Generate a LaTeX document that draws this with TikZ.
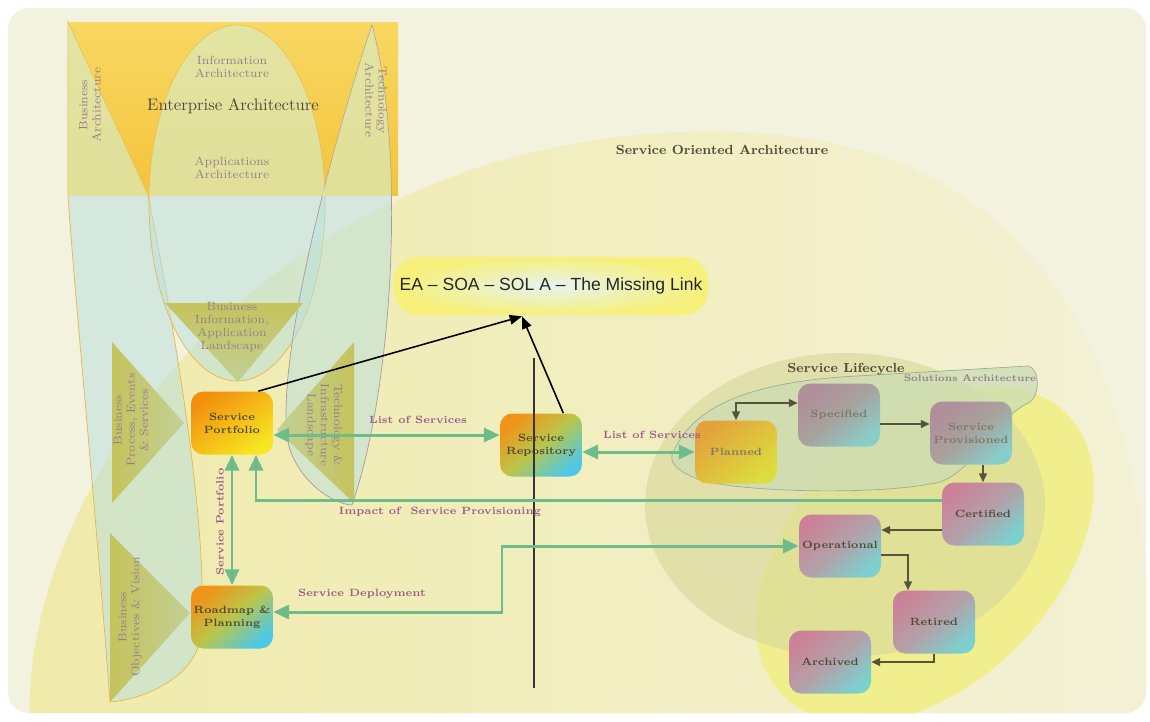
\documentclass[tikz,border=0pt]{standalone}
\usepackage{fontspec}
\newfontfamily\titlefont{Liberation Sans}
\usepackage{xcolor}
\usetikzlibrary{positioning, calc, arrows.meta}

\definecolor{paper}{HTML}{F3F2DF}
\definecolor{soapale}{HTML}{F3F1D6}
\definecolor{soawarm}{HTML}{F0EBAA}
\definecolor{eagold}{HTML}{F4C43C}
\definecolor{eabright}{HTML}{F8D862}
\definecolor{eaedge}{HTML}{E9B64A}
\definecolor{lensedge}{HTML}{A89AA0}
\definecolor{mist}{HTML}{BCE0DC}
\definecolor{sunwash}{HTML}{F4F2A0}
\definecolor{olivetri}{HTML}{C6C35C}
\definecolor{lifegreen}{HTML}{D8D99C}
\definecolor{lifeyellow}{HTML}{F1EE8E}
\definecolor{solfill}{HTML}{CCDDB4}
\definecolor{soledge}{HTML}{9CAE92}
\definecolor{flowgreen}{HTML}{6EBB8C}
\definecolor{stepink}{HTML}{56553A}
\definecolor{plum}{HTML}{9E5C88}
\definecolor{greyplum}{HTML}{957E8E}
\definecolor{ink}{HTML}{4F4A36}
\definecolor{fadedink}{HTML}{7E7768}
\definecolor{glow}{HTML}{F7F07A}
\definecolor{titlecore}{HTML}{E6F3F0}
\definecolor{portorange}{HTML}{F2900E}
\definecolor{portyellow}{HTML}{F7E620}
\definecolor{mixorange}{HTML}{F09418}
\definecolor{mixolive}{HTML}{BAC64A}
\definecolor{mixcyan}{HTML}{4FC8E4}
\definecolor{planorange}{HTML}{E3A23C}
\definecolor{planyellow}{HTML}{DCDD3E}
\definecolor{greytop}{HTML}{B08E9A}
\definecolor{greymid}{HTML}{A8A29E}
\definecolor{greyend}{HTML}{88CEC8}
\definecolor{rosetop}{HTML}{CB8298}
\definecolor{rosemid}{HTML}{B4A0A8}
\definecolor{roseend}{HTML}{7CD0CE}

\begin{document}
\begin{tikzpicture}[x=0.02cm, y=-0.02cm,
    box/.style={rounded corners=7pt, minimum width=1.64cm, minimum height=1.26cm,
      inner sep=1pt, align=center, text=ink, font=\fontsize{6}{7.5}\selectfont\bfseries},
    portbox/.style={box, top color=portorange, bottom color=portyellow, shading angle=35},
    mixbox/.style={box, top color=mixorange, bottom color=mixcyan, middle color=mixolive, shading angle=40},
    planbox/.style={box, top color=planorange, bottom color=planyellow, shading angle=40, text=fadedink},
    greybox/.style={box, top color=greytop, bottom color=greyend, middle color=greymid, shading angle=40, text=fadedink},
    rosebox/.style={box, top color=rosetop, bottom color=roseend, middle color=rosemid, shading angle=40},
    titlebox/.style={rounded corners=14pt, minimum width=6.24cm, minimum height=1.16cm,
      inner color=titlecore, outer color=glow, text=black!85,
      font=\titlefont\fontsize{10}{12}\selectfont},
    sublabel/.style={text=greyplum, align=center, font=\fontsize{6.8}{7.5}\selectfont},
    flowlabel/.style={text=plum, font=\fontsize{6}{7}\selectfont\bfseries},
    heading/.style={text=ink, font=\fontsize{7.5}{9}\selectfont\bfseries},
    greenline/.style={draw=flowgreen, line width=1.7pt},
    greenboth/.style={greenline, {Triangle[length=9pt,width=8pt]}-{Triangle[length=9pt,width=8pt]}},
    greento/.style={greenline, -{Triangle[length=9pt,width=8pt]}},
    stepline/.style={draw=stepink, line width=0.8pt},
    stepto/.style={stepline, -{Triangle[length=5pt,width=4.5pt]}},
    stepboth/.style={stepline, {Triangle[length=5pt,width=4.5pt]}-{Triangle[length=5pt,width=4.5pt]}},
    linkarrow/.style={draw=black, line width=0.9pt, -{Triangle[length=7pt,width=5.5pt]}}]
  \useasboundingbox (0,0) rectangle (1150,721);
  \fill[white] (0,0) rectangle (1150,721);
  \fill[paper, rounded corners=12pt] (8,8) rectangle (1146,713);
  % service oriented architecture and lifecycle areas
  \begin{scope}
    \clip[rounded corners=12pt] (8,8) rectangle (1146,713);
    \shade[left color=soawarm, right color=soapale] (30,721) .. controls (20,500) and (250,150) .. (680,132)
      .. controls (1000,120) and (1160,300) .. (1150,721) -- cycle;
    \fill[lifeyellow, rotate around={45:(925,555)}] (925,555) ellipse[x radius=200, y radius=130];
    \fill[lifegreen, fill opacity=.65] (845,505) ellipse[x radius=200, y radius=152];
  \end{scope}
  % enterprise architecture column
  \shade[top color=eabright, bottom color=eagold] (68,22) rectangle (398,195);
  \path[save path=\spindle] (68,22) -- (148,195)
    .. controls (185,380) and (210,560) .. (200,640) .. controls (192,680) and (140,700) .. (110,702)
    .. controls (95,500) and (75,300) .. (68,195) -- cycle;
  \path[save path=\oval] (237,203) ellipse[x radius=88, y radius=178];
  \path[save path=\lens] (372,25)
    .. controls (330,150) and (270,380) .. (290,450) .. controls (305,490) and (340,505) .. (352,505)
    .. controls (395,380) and (405,150) .. (372,25);
  \filldraw[use path=\spindle, fill=mist, fill opacity=.55, draw=eaedge, line width=.4pt];
  \filldraw[use path=\oval, fill=mist, fill opacity=.55, draw=eaedge, line width=.4pt];
  \filldraw[use path=\lens, fill=mist, fill opacity=.55, draw=lensedge, line width=.4pt];
  \begin{scope}
    \clip (68,22) rectangle (398,195);
    \fill[use path=\spindle, sunwash, fill opacity=.4];
    \fill[use path=\oval, sunwash, fill opacity=.4];
    \fill[use path=\lens, sunwash, fill opacity=.4];
  \end{scope}
  \shade[top color=olivetri, bottom color=olivetri!55!mist] (165,303) -- (303,303) -- (238,382) -- cycle;
  \shade[left color=olivetri, right color=olivetri!55!mist] (112,342) -- (184,423) -- (112,503) -- cycle;
  \shade[left color=olivetri!55!mist, right color=olivetri] (354,342) -- (277,430) -- (354,503) -- cycle;
  \shade[left color=olivetri, right color=olivetri!55!mist] (110,533) -- (190,613) -- (110,702) -- cycle;
  \node[font=\fontsize{9.5}{11}\selectfont, text=ink] (ea) at (233,106) {Enterprise Architecture};
  \node[sublabel] (info) at (232,67) {Information\\Architecture};
  \node[sublabel] (apps) at (232,168) {Applications\\Architecture};
  \node[sublabel, rotate=90] (busarch) at (90,105) {Business\\Architecture};
  \node[sublabel, rotate=-90] (techarch) at (376,100) {Technology\\Architecture};
  \node[sublabel] (landscape) at (232,327) {Business\\Information,\\Application\\Landscape};
  \node[sublabel, rotate=90] (process) at (131,420) {Business\\Process, Events\\\& Services};
  \node[sublabel, rotate=-90] (infra) at (324,425) {Technology \&\\Infrastructure\\Landscape};
  \node[sublabel, rotate=90] (objectives) at (130,617) {Business\\Objectives \& Vision};
  % solutions architecture
  \filldraw[fill=solfill, fill opacity=.75, draw=soledge, line width=.4pt] (672,455)
    .. controls (690,410) and (740,385) .. (840,377) -- (1028,366)
    .. controls (1040,368) and (1040,395) .. (1030,402) .. controls (995,418) and (975,470) .. (940,482)
    .. controls (880,496) and (740,492) .. (700,480) .. controls (680,472) and (670,465) .. cycle;
  \node[heading] (soa) at (722,150) {Service Oriented Architecture};
  \node[heading] (life) at (846,369) {Service Lifecycle};
  \node[text=greyplum, font=\fontsize{5.5}{6}\selectfont\bfseries] (solarch) at (970,378) {Solutions Architecture};
  % boxes
  \node[titlebox] (missing) at (551,286) {EA – SOA – SOL A – The Missing Link};
  \node[portbox] (portfolio) at (232,423) {Service\\Portfolio};
  \node[mixbox] (roadmap) at (232,617) {Roadmap \&\\Planning};
  \node[mixbox] (repository) at (541,445) {Service\\Repository};
  \node[planbox] (planned) at (736,452) {Planned};
  \node[greybox] (specified) at (839,415) {Specified};
  \node[greybox] (provisioned) at (971,433) {Service\\Provisioned};
  \node[rosebox] (certified) at (983,514) {Certified};
  \node[rosebox] (operational) at (840,546) {Operational};
  \node[rosebox] (retired) at (934,622) {Retired};
  \node[rosebox] (archived) at (830,662) {Archived};
  \draw[line width=1.4pt, black!80!olive] (534,358) -- (534,688);
  % links to the title
  \coordinate (meet) at ($(missing.south)+(-29,1)$);
  \draw[linkarrow] ($(portfolio.north east)+(-15,0)$) -- (meet);
  \draw[linkarrow] ($(repository.north east)+(-19,0)$) -- (meet);
  % service flows
  \coordinate (lsa) at ($(portfolio.east)+(0,12)$);
  \draw[greenboth] (lsa) -- (lsa -| repository.west);
  \draw[greenboth] (repository.east |- planned.west) -- (planned.west);
  \coordinate (imp) at ($(certified.west)+(0,-14)$);
  \coordinate (impup) at ($(portfolio.south)+(24,0)$);
  \draw[greento] (imp) -| (impup);
  \draw[greenboth] (portfolio.south) -- (roadmap.north);
  \coordinate (dep) at ($(roadmap.east)+(0,-5)$);
  \coordinate (bend) at (502,546);
  \draw[greenboth] (dep) -| (bend) -- (operational.west);
  \node[flowlabel] (lsalabel) at (418,420) {List of Services};
  \node[flowlabel] (lsblabel) at (652,435) {List of Services};
  \node[flowlabel] (implabel) at (440,512) {Impact of\ \ Service Provisioning};
  \node[flowlabel] (deplabel) at (362,594) {Service Deployment};
  \node[flowlabel, rotate=90] (splabel) at (220,522) {Service Portfolio};
  % lifecycle steps
  \draw[stepboth] (planned.north) |- ($(specified.west)+(0,-12)$);
  \coordinate (spo) at ($(specified.east)+(0,9)$);
  \draw[stepto] (spo) -- (spo -| provisioned.west);
  \draw[stepto] (provisioned.south -| certified.north) -- (certified.north);
  \coordinate (cop) at ($(certified.west)+(0,16)$);
  \draw[stepto] (cop) -- (cop -| operational.east);
  \draw[stepto] ($(operational.east)+(0,9)$) -| ($(retired.north)+(-26,0)$);
  \draw[stepto] (retired.south) |- (archived.east);
\end{tikzpicture}
\end{document}
